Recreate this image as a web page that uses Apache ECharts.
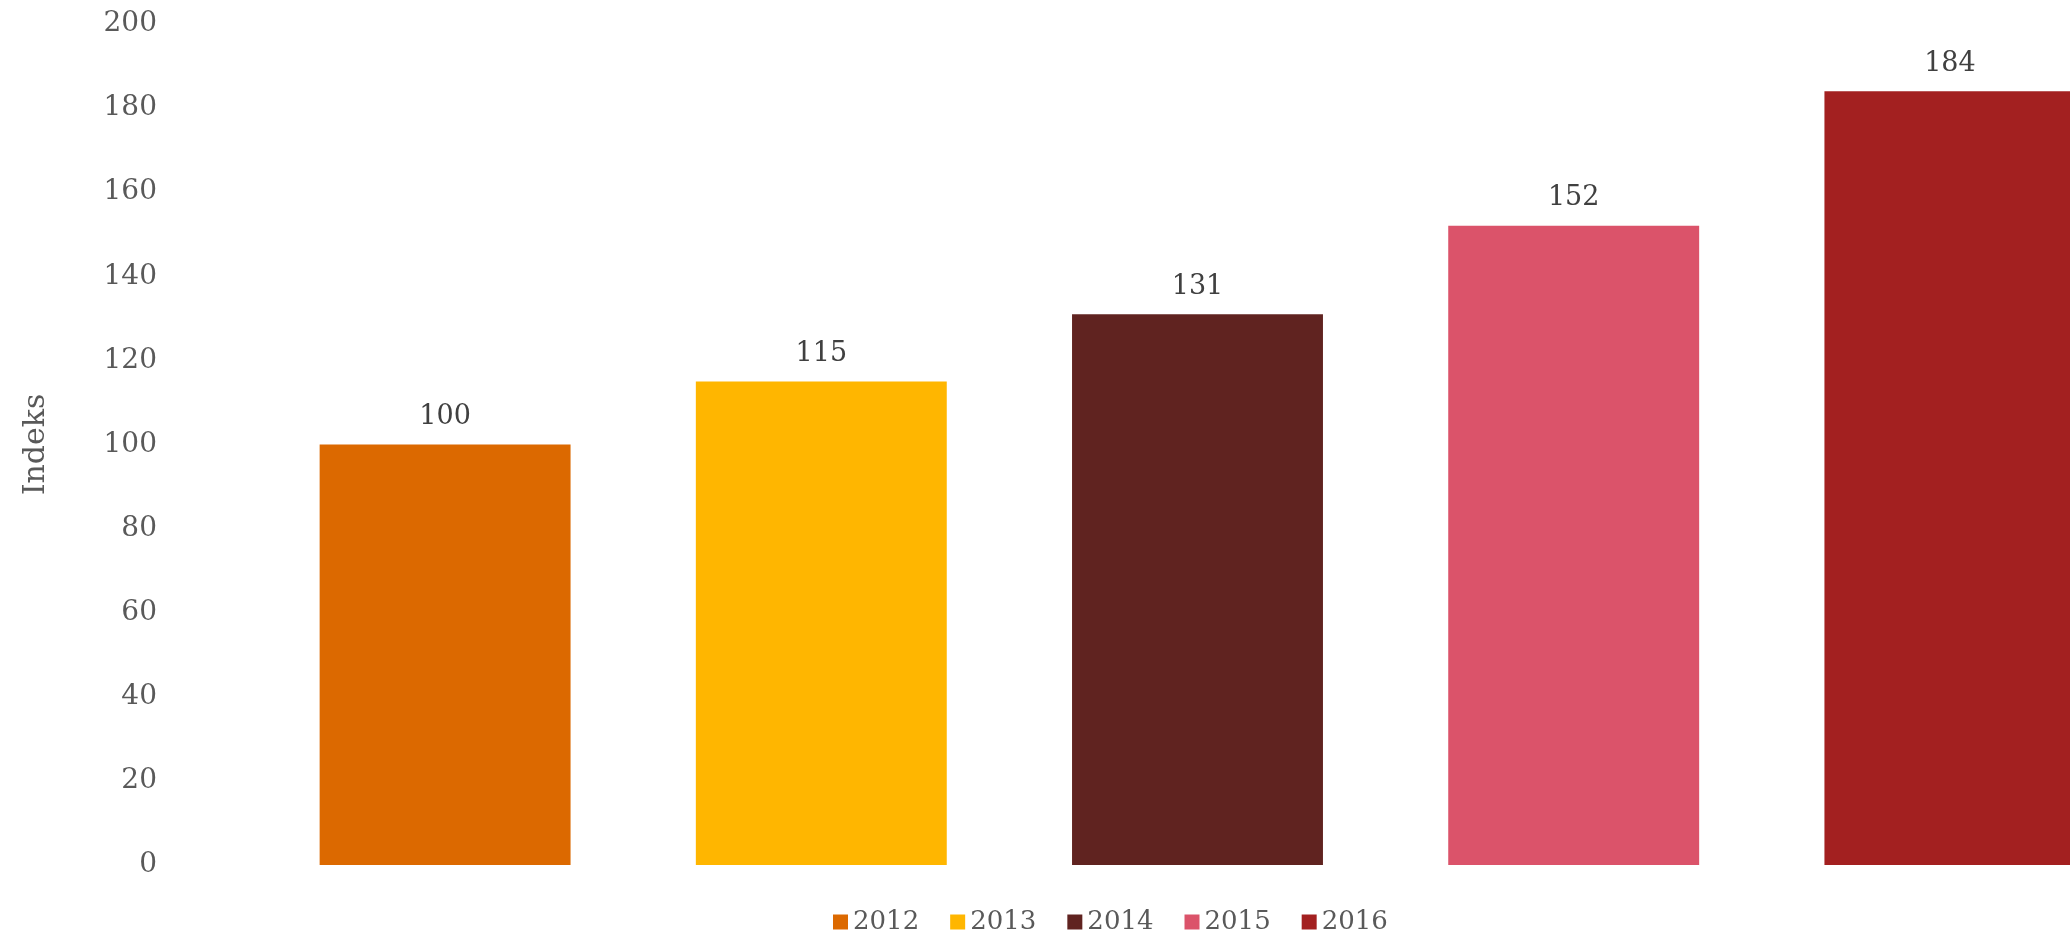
<!DOCTYPE html>
<html>
<head>
<meta charset="utf-8">
<script src="https://cdn.jsdelivr.net/npm/echarts@6/dist/echarts.min.js"></script>
<style>
  html, body { margin: 0; padding: 0; background: #fff; overflow: hidden; width: 2070px; height: 936px; }
  /* plot is wider than the page; the last bar runs off the right edge */
  #chart { width: 2138px; height: 936px; }
</style>
</head>
<body>
<div id="chart"></div>
<script>
// Index values per year (2012 = 100)
const years = ['2012', '2013', '2014', '2015', '2016'];
const values = [100, 115, 131, 152, 184];
const colors = ['#DC6900', '#FFB600', '#602320', '#DB536A', '#A32020'];
const yTicks = { min: 0, max: 200, interval: 20 };

const FONT = '"DejaVu Serif", "Liberation Serif", serif';

// One series per year so each gets its own legend entry; stacking keeps bars centred.
const series = years.map((y, i) => ({
  name: y,
  type: 'bar',
  stack: 'all',
  barWidth: '66.7%',
  itemStyle: { color: colors[i] },
  label: {
    show: true,
    position: 'top',
    distance: 14,
    color: '#404040',
    fontFamily: FONT,
    fontSize: 27
  },
  data: years.map((_, j) => (j === i ? values[i] : '-'))
}));

const chart = echarts.init(document.getElementById('chart'), null, { renderer: 'canvas' });
chart.setOption({
  animation: false,
  backgroundColor: '#ffffff',
  grid: { left: 257, top: 24, right: 0, bottom: 71, containLabel: false },
  legend: {
    data: years,
    left: 828,
    top: 904,
    itemWidth: 15,
    itemHeight: 15,
    itemGap: 31,
    icon: 'rect',
    textStyle: { color: '#595959', fontFamily: FONT, fontSize: 26 }
  },
  xAxis: {
    type: 'category',
    data: years,
    axisLine: { show: false },
    axisTick: { show: false },
    axisLabel: { show: false },
    splitLine: { show: false }
  },
  yAxis: {
    type: 'value',
    min: yTicks.min,
    max: yTicks.max,
    interval: yTicks.interval,
    name: 'Indeks',
    nameLocation: 'middle',
    nameGap: 206,
    nameTextStyle: { color: '#595959', fontFamily: FONT, fontSize: 30 },
    axisLine: { show: false },
    axisTick: { show: false },
    splitLine: { show: false },
    axisLabel: { color: '#595959', fontFamily: FONT, fontSize: 28, margin: 100 }
  },
  series: series
});
</script>
</body>
</html>
